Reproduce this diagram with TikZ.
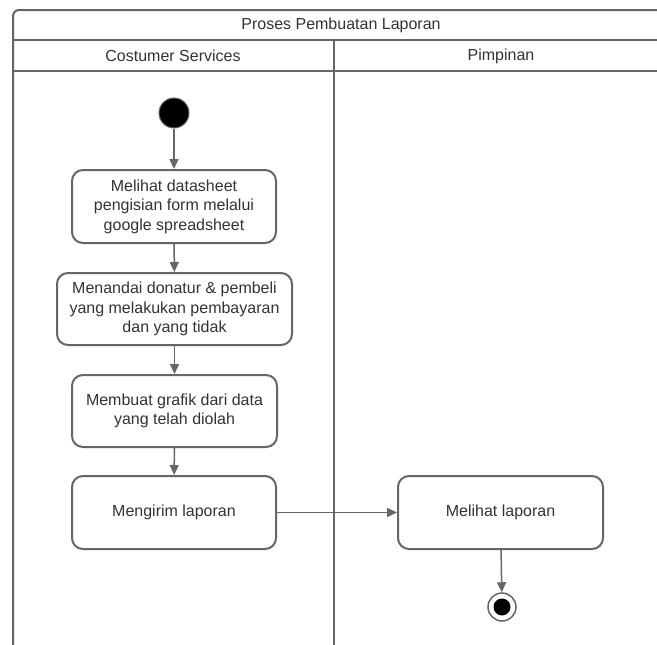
\documentclass[tikz,border=0pt]{standalone}
\usepackage{fontspec}
\setmainfont{Liberation Sans}
\usetikzlibrary{arrows.meta}
\definecolor{lc}{HTML}{666666}
\definecolor{tc}{HTML}{333333}
\tikzset{
  act/.style={draw=lc, line width=2pt, rounded corners=11pt, fill=white, align=center,
    text=tc, font=\fontsize{16}{19.5}\selectfont, inner sep=0pt},
  lbl/.style={text=tc, font=\fontsize{16}{19.5}\selectfont, inner sep=0pt},
  flow/.style={draw=lc, line width=1.5pt, -{Triangle[length=10pt,width=9pt]}},
  lane/.style={draw=lc, line width=2pt}
}
\begin{document}
\begin{tikzpicture}[x=1pt,y=-1pt]
\useasboundingbox (0,0) rectangle (657,645);
\clip (0,0) rectangle (657,645);
\fill[white] (0,0) rectangle (657,645);
% frame
\draw[lane, rounded corners=6pt] (13,650) -- (13,10) -- (680,10);
\draw[lane] (13,40) -- (680,40);
\draw[lane] (13,71) -- (680,71);
\draw[lane] (334,40) -- (334,650);
% headers
\node[lbl] (title) at (341,25) {Proses Pembuatan Laporan};
\node[lbl] (cs) at (173,56) {Costumer Services};
\node[lbl] (pim) at (501,56) {Pimpinan};
% nodes
\node[circle, fill=black, draw=lc, line width=1pt, minimum size=30pt, inner sep=0pt] (start) at (174,113) {};
\node[act, minimum width=204pt, minimum height=73pt] (a1) at (174,206.5) {Melihat datasheet\\pengisian form melalui\\google spreadsheet};
\node[act, minimum width=235pt, minimum height=72pt] (a2) at (174.5,309) {Menandai donatur \& pembeli\\yang melakukan pembayaran\\dan yang tidak};
\node[act, minimum width=205pt, minimum height=72pt] (a3) at (174.5,411) {Membuat grafik dari data\\yang telah diolah};
\node[act, minimum width=204pt, minimum height=73pt] (a4) at (174,512.5) {Mengirim laporan};
\node[act, minimum width=205pt, minimum height=73pt] (a5) at (500.5,512.5) {Melihat laporan};
\node[circle, draw=lc, line width=1.5pt, fill=white, minimum size=28pt, inner sep=0pt] (end) at (502,607) {};
\fill[black] (end.center) circle (8.5pt);
% flows
\draw[flow] (start) -- (a1);
\draw[flow] (a1) -- (a2);
\draw[flow] (a2) -- (a3);
\draw[flow] (a3) -- (a4);
\draw[flow] (a4) -- (a5);
\draw[flow] (a5) -- (end);
\end{tikzpicture}
\end{document}
